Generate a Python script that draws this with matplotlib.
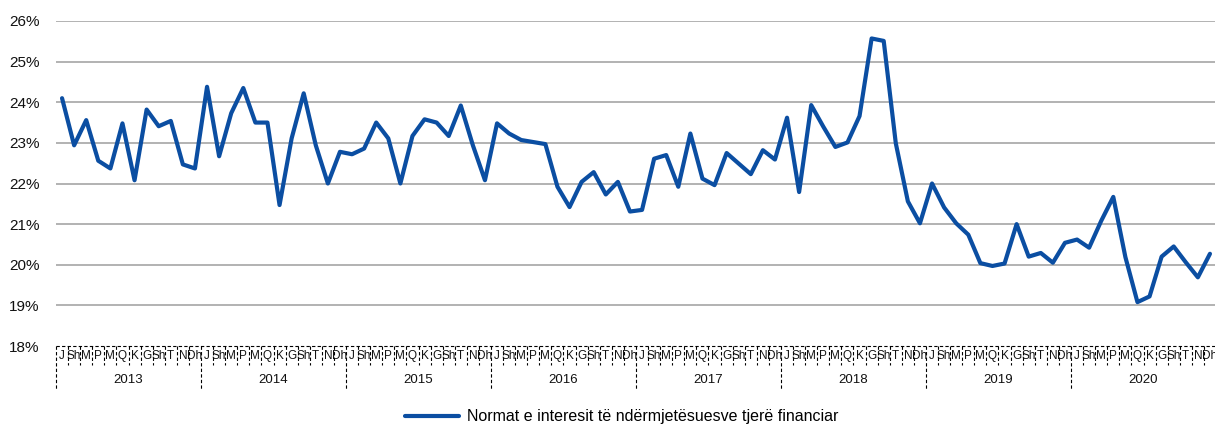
import matplotlib
matplotlib.use("Agg")
import matplotlib.pyplot as plt
import matplotlib.transforms as mtransforms

plt.rcParams['font.family'] = ['Liberation Sans', 'DejaVu Sans']

years = ['2013', '2014', '2015', '2016', '2017', '2018', '2019', '2020']
months = ['J', 'Sh', 'M', 'P', 'M', 'Q', 'K', 'G', 'Sh', 'T', 'N', 'Dh']
series_name = 'Normat e interesit të ndërmjetësuesve tjerë financiar'

rates_2013 = [24.10, 22.94, 23.56, 22.56, 22.37, 23.48, 22.08, 23.82, 23.41, 23.54, 22.47, 22.37]
rates_2014 = [24.38, 22.67, 23.73, 24.35, 23.50, 23.50, 21.47, 23.11, 24.22, 22.94, 22.00, 22.78]
rates_2015 = [22.72, 22.86, 23.50, 23.11, 22.00, 23.17, 23.58, 23.50, 23.17, 23.92, 22.94, 22.08]
rates_2016 = [23.48, 23.23, 23.07, 23.02, 22.97, 21.92, 21.42, 22.04, 22.28, 21.73, 22.04, 21.31]
rates_2017 = [21.35, 22.61, 22.70, 21.92, 23.23, 22.12, 21.96, 22.75, 22.49, 22.23, 22.82, 22.59]
rates_2018 = [23.62, 21.79, 23.93, 23.40, 22.90, 23.01, 23.66, 25.57, 25.51, 22.99, 21.56, 21.02]
rates_2019 = [22.00, 21.41, 21.02, 20.74, 20.04, 19.97, 20.03, 21.00, 20.20, 20.29, 20.05, 20.54]
rates_2020 = [20.62, 20.42, 21.08, 21.67, 20.19, 19.08, 19.22, 20.20, 20.45, 20.06, 19.69, 20.27]

values = (rates_2013 + rates_2014 + rates_2015 + rates_2016 +
          rates_2017 + rates_2018 + rates_2019 + rates_2020)
y_ticks = [18, 19, 20, 21, 22, 23, 24, 25, 26]

W, H = 1215, 425
fig = plt.figure(figsize=(W / 100, H / 100), dpi=100)
ax = fig.add_axes([56 / W, 1 - 346 / H, 1160 / W, 325 / H])

n = len(values)
x = list(range(n))
line, = ax.plot(x, values, color='#0B4EA2', lw=3.0, solid_joinstyle='round',
                solid_capstyle='round', label=series_name, zorder=3)

ax.set_xlim(-0.5, n - 0.5)
ax.set_ylim(18, 26)
ax.set_yticks(y_ticks)
ax.set_yticklabels([f'{v}%' for v in y_ticks], fontsize=11, color='#111111')
ax.tick_params(axis='y', length=0, pad=12)
ax.set_xticks([])
for s in ax.spines.values():
    s.set_visible(False)
for v in y_ticks[1:]:
    ax.axhline(v, color='#A6A6A6', lw=1.2, zorder=1)

# category axis (two levels, dashed)
trans = mtransforms.blended_transform_factory(ax.transData, ax.transAxes)
px = 1 / 325.0
dash = dict(color='black', lw=0.8, linestyle=(0, (3, 2)), clip_on=False)
ax.plot([-0.5, n - 0.5], [0, 0], transform=trans, **dash)
for i in range(n + 1):
    xb = i - 0.5
    if i % 12 == 0 or i == n:
        ax.plot([xb, xb], [0, -44 * px], transform=trans, **dash)
    else:
        ax.plot([xb, xb], [0, -19 * px], transform=trans, **dash)
for i in range(n):
    ax.text(i, -10 * px, months[i % 12], transform=trans, ha='center', va='center',
            fontsize=8.5, color='#111111')
for k, yr in enumerate(years):
    ax.text(k * 12 + 5.5, -34 * px, yr, transform=trans, ha='center', va='center',
            fontsize=9.5, color='#111111')

fig.legend(handles=[line], labels=[series_name], loc='center',
           bbox_to_anchor=(622 / W, 1 - 417 / H), frameon=False, fontsize=11.5,
           handlelength=3.4, handletextpad=0.5)

fig.savefig('out.png', dpi=100)
